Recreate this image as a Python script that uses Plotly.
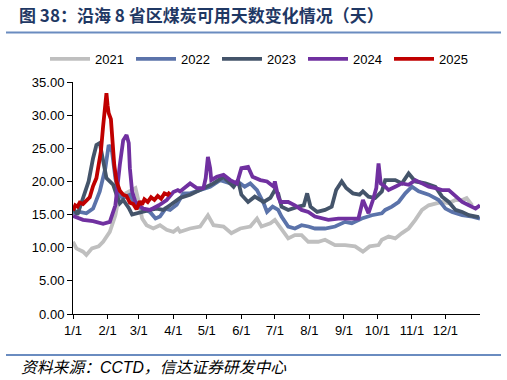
import plotly.graph_objects as go

# ---- data (day of year, value) ----
d2021 = [0, 3, 9, 12, 17, 23, 27, 33, 38, 41, 45, 51, 56, 59, 62, 66, 72, 78, 84, 90, 94, 96, 105, 114, 121, 126, 135, 142, 150, 159, 165, 169, 177, 181, 187, 193, 199, 205, 211, 220, 226, 235, 244, 253, 260, 266, 274, 277, 283, 289, 295, 301, 307, 313, 319, 325, 331, 337, 343, 349, 353, 358]
v2021 = [10.9, 9.9, 9.4, 8.9, 9.9, 10.2, 10.9, 12.4, 14.9, 17.5, 18.0, 18.5, 19.0, 16.9, 14.4, 13.4, 12.9, 13.4, 12.7, 12.4, 12.9, 12.4, 12.9, 13.2, 14.9, 13.4, 13.2, 12.2, 12.9, 13.2, 14.4, 13.2, 13.7, 14.2, 12.9, 11.4, 11.9, 11.9, 10.9, 10.9, 11.2, 10.4, 10.4, 10.2, 9.4, 10.2, 10.4, 11.2, 11.7, 11.4, 12.2, 12.9, 14.2, 15.7, 16.4, 16.7, 16.9, 16.7, 17.2, 17.2, 17.5, 16.4]

d2022 = [0, 6, 12, 18, 24, 29, 32, 35, 38, 41, 45, 51, 56, 62, 69, 74, 78, 83, 87, 93, 99, 105, 114, 123, 132, 141, 150, 154, 159, 165, 171, 174, 179, 184, 187, 193, 199, 205, 211, 217, 226, 235, 244, 250, 259, 268, 277, 280, 286, 292, 298, 304, 310, 319, 328, 334, 340, 349, 358, 365]
v2022 = [15.2, 15.4, 15.2, 15.9, 18.5, 22.0, 25.5, 24.5, 20.5, 18.0, 17.5, 18.0, 16.4, 15.9, 15.4, 14.4, 14.7, 15.9, 15.7, 16.5, 18.2, 18.2, 18.7, 19.2, 20.2, 19.7, 19.7, 19.2, 19.7, 18.7, 16.7, 15.4, 16.2, 15.7, 14.7, 13.2, 12.9, 13.4, 13.2, 12.9, 12.9, 13.2, 13.9, 13.7, 14.4, 14.9, 15.2, 15.7, 16.2, 16.9, 18.2, 19.2, 18.5, 18.0, 17.2, 15.9, 15.4, 14.9, 14.7, 14.4]

d2023 = [0, 4, 9, 14, 18, 21, 24, 27, 30, 33, 36, 39, 42, 45, 50, 53, 57, 63, 69, 75, 81, 87, 93, 96, 105, 114, 126, 135, 144, 148, 151, 157, 163, 171, 177, 181, 184, 187, 193, 202, 207, 210, 213, 219, 226, 232, 236, 241, 245, 251, 257, 260, 265, 271, 277, 280, 289, 295, 301, 307, 316, 325, 331, 337, 343, 349, 355, 364]
v2023 = [16.0, 15.0, 17.5, 20.0, 23.5, 25.5, 25.8, 23.0, 20.5, 20.0, 19.5, 18.0, 16.7, 17.2, 16.0, 15.0, 15.2, 15.4, 15.7, 15.9, 15.7, 16.4, 17.2, 17.5, 18.0, 18.7, 19.7, 20.7, 19.2, 20.2, 18.0, 16.9, 17.7, 16.9, 17.5, 18.7, 18.2, 16.2, 15.7, 16.2, 16.4, 18.2, 16.2, 15.4, 15.7, 16.2, 18.7, 20.0, 19.0, 18.2, 18.0, 18.5, 17.7, 17.5, 18.5, 20.2, 20.2, 19.7, 21.2, 20.0, 19.7, 19.2, 17.7, 16.9, 15.7, 15.4, 14.9, 14.6]

d2024 = [0, 9, 18, 27, 33, 38, 42, 45, 48, 50, 51, 53, 56, 63, 69, 77, 84, 90, 94, 96, 105, 111, 117, 119, 121, 123, 124, 129, 135, 141, 147, 151, 157, 161, 168, 174, 180, 181, 184, 186, 193, 199, 205, 211, 217, 223, 229, 238, 247, 256, 260, 265, 269, 272, 274, 276, 280, 283, 289, 295, 301, 307, 313, 319, 325, 331, 337, 343, 349, 355, 361, 365]
v2024 = [14.8, 14.2, 14.0, 13.6, 13.9, 16.4, 22.5, 26.2, 27.0, 25.8, 22.0, 18.5, 16.9, 15.9, 15.7, 16.4, 17.2, 18.4, 18.7, 18.5, 19.7, 19.0, 19.0, 20.5, 23.7, 22.0, 20.2, 20.7, 21.0, 20.2, 19.7, 22.0, 22.2, 20.7, 20.2, 20.0, 19.2, 20.0, 17.7, 16.9, 16.9, 16.4, 15.7, 15.4, 14.7, 14.4, 14.2, 14.4, 14.4, 14.4, 17.2, 15.2, 17.2, 19.0, 22.7, 19.7, 19.2, 18.7, 19.2, 19.7, 19.5, 20.2, 19.7, 19.2, 19.0, 18.7, 18.7, 17.7, 16.9, 16.4, 15.9, 16.4]

d2025 = [0, 2, 4, 6, 9, 12, 15, 18, 21, 23, 25, 27, 29, 30, 31, 32, 34, 35, 36, 37, 39, 42, 45, 48, 51, 54, 57, 60, 62, 64, 67, 70, 73, 76, 79, 82, 85, 87]
v2025 = [15.6, 16.4, 16.2, 16.8, 16.6, 17.1, 17.6, 19.3, 20.5, 22.5, 24.5, 28.3, 31.8, 33.3, 31.5, 30.3, 29.4, 27.0, 25.0, 22.5, 20.0, 18.6, 18.0, 17.8, 16.8, 16.6, 15.8, 17.0, 16.5, 17.3, 16.9, 17.6, 17.2, 17.8, 17.4, 18.2, 18.0, 18.4]

month_days = [0, 31, 59, 90, 120, 151, 181, 212, 243, 273, 304, 334]
month_labels = ["1/1", "2/1", "3/1", "4/1", "5/1", "6/1", "7/1", "8/1", "9/1", "10/1", "11/1", "12/1"]
y_ticks = [0, 5, 10, 15, 20, 25, 30, 35]

series = [
    ("2021", d2021, v2021, "#BFBFBF"),
    ("2022", d2022, v2022, "#5B73AA"),
    ("2023", d2023, v2023, "#44546A"),
    ("2024", d2024, v2024, "#7030A0"),
    ("2025", d2025, v2025, "#C00000"),
]

fig = go.Figure()
for name, d, v, c in series:
    fig.add_trace(go.Scatter(x=d, y=v, name=name, mode="lines",
                             line=dict(color=c, width=3.8)))

W, H = 507, 380
L, R, T, B = 73, 27, 82, 66
pw, ph = W - L - R, H - T - B

def px(x):
    return (x - L) / pw

def py(y):
    return (H - B - y) / ph

fig.update_layout(
    width=W, height=H,
    margin=dict(l=L, r=R, t=T, b=B, autoexpand=False),
    paper_bgcolor="white", plot_bgcolor="white",
    font=dict(family="Arial, Liberation Sans, sans-serif", size=13, color="black"),
    showlegend=True,
    legend=dict(orientation="h", x=px(45), xanchor="left", y=py(59), yanchor="middle",
                font=dict(size=13), itemwidth=40, entrywidth=31, entrywidthmode="pixels",
                traceorder="normal", bgcolor="rgba(0,0,0,0)"),
    xaxis=dict(range=[0, 365], tickmode="array", tickvals=month_days, ticktext=month_labels,
               showgrid=False, zeroline=False, showline=True, linecolor="black", linewidth=1,
               ticks="outside", ticklen=4, tickcolor="black", fixedrange=True),
    yaxis=dict(range=[0, 35], tickmode="array", tickvals=y_ticks,
               ticktext=[f"{t:.2f}" for t in y_ticks],
               showgrid=False, zeroline=False, showline=True, linecolor="black", linewidth=1,
               ticks="outside", ticklen=5, tickcolor="black", fixedrange=True),
    shapes=[
        dict(type="line", xref="paper", yref="paper", x0=px(6), x1=px(501), y0=py(32.5), y1=py(32.5),
             line=dict(color="#6A8CC0", width=2)),
        dict(type="line", xref="paper", yref="paper", x0=px(6), x1=px(501), y0=py(355), y1=py(355),
             line=dict(color="#6A8CC0", width=2)),
    ],
    annotations=[
        dict(xref="paper", yref="paper", x=px(17), y=py(14), xanchor="left", yanchor="middle",
             showarrow=False, text="<b>图 38：沿海 8 省区煤炭可用天数变化情况（天）</b>",
             font=dict(family="Noto Sans CJK SC, Arial", size=17, color="#1F3864")),
        dict(xref="paper", yref="paper", x=px(19), y=py(367), xanchor="left", yanchor="middle",
             showarrow=False, text="<i>资料来源：CCTD，信达证券研发中心</i>",
             font=dict(family="Arial, Noto Sans CJK SC", size=15.8, color="black")),
    ],
)

fig.write_html("out.html", config={"displayModeBar": False},
               post_script="document.body.style.margin='0';document.body.style.overflow='hidden';")
